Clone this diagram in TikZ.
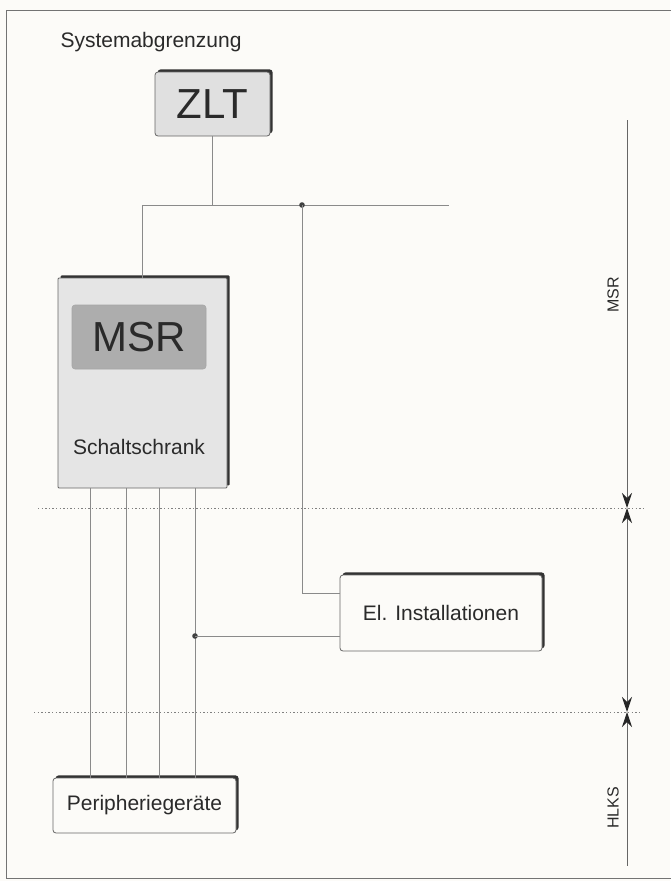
\documentclass[tikz,border=0pt]{standalone}
\usepackage{fontspec}
\setmainfont{Liberation Sans}
\usetikzlibrary{shadows,arrows.meta,calc}
\definecolor{paper}{HTML}{FCFBF8}
\definecolor{ink}{HTML}{2A2A2A}
\definecolor{wire}{HTML}{8A8A8A}
\begin{document}
\begin{tikzpicture}[x=1pt,y=-1pt,
  wireline/.style={draw=wire, line width=0.9pt},
  sbox/.style={draw=black!60, line width=0.8pt, rounded corners=3pt,
    drop shadow={shadow xshift=2.6pt, shadow yshift=2.6pt, fill=black!80, opacity=1},
    inner sep=0pt, anchor=center},
  txt/.style={font=\fontsize{21}{24}\selectfont, text=ink},
  big/.style={font=\fontsize{42}{46}\selectfont, text=ink},
  side/.style={font=\fontsize{16}{18}\selectfont, text=ink, rotate=90},
  dotline/.style={draw=black!50, line width=0.8pt, dash pattern=on 1.4pt off 2.2pt},
  axline/.style={draw=black!60, line width=0.9pt},
  tipend/.style={-{Stealth[length=15pt,width=10pt,inset=5pt,color=black!85]}},
  tipboth/.style={{Stealth[length=15pt,width=10pt,inset=5pt,color=black!85]}-{Stealth[length=15pt,width=10pt,inset=5pt,color=black!85]}},
  tipstart/.style={{Stealth[length=15pt,width=10pt,inset=5pt,color=black!85]}-}
]
\useasboundingbox (0,0) rectangle (670,881);
\fill[paper] (0,0) rectangle (670,881);
% frame
\draw[draw=black!55, line width=0.9pt] (672,10) -- (6,10) -- (6,878) -- (672,878);

% title
\node[txt, anchor=west] (title) at (57,42) {Systemabgrenzung};

% boxes
\node[sbox, fill=black!12, minimum width=115pt, minimum height=64pt, big] (zlt) at (212.5,104) {ZLT};
\node[sbox, fill=black!10, rounded corners=1pt, minimum width=169pt, minimum height=210pt] (schrank) at (142.5,383) {};
\node[draw=black!35, line width=0.6pt, fill=black!32, rounded corners=3pt, minimum width=134pt, minimum height=64pt, big] (msr) at (139,337) {MSR};
\node[txt] (schtxt) at (139,447) {Schaltschrank};
\node[sbox, fill=paper, minimum width=202pt, minimum height=76pt, txt] (el) at (441,613) {El. Installationen};
\node[sbox, fill=paper, minimum width=183pt, minimum height=55pt, txt] (peri) at (144.5,805.5) {Peripherieger\"ate};

% bus
\coordinate (busR) at (449,205);
\coordinate (ja) at (302,205);
\draw[wireline] (zlt.south) -- (zlt.south |- busR);
\draw[wireline] (schrank.north) |- (busR);
\fill[black!75] (ja) circle (2.8);
\draw[wireline] (ja) |- ([yshift=20pt]el.west);

% vertical wires
\coordinate (v1) at (90,0);
\coordinate (v2) at (126,0);
\coordinate (v3) at (159,0);
\coordinate (v4) at (195,0);
\foreach \v in {v1,v2,v3,v4}
  \draw[wireline] (schrank.south -| \v) -- (peri.north -| \v);
\coordinate (jb) at (195,636);
\fill[black!75] (jb) circle (2.8);
\draw[wireline] (jb) -- (jb -| el.west);

% boundaries
\draw[dotline] (38,508) -- (645,508);
\draw[dotline] (34,712) -- (641,712);

% axis
\coordinate (a0) at (627,120);
\coordinate (a1) at (627,508);
\coordinate (a2) at (627,712);
\coordinate (a3) at (627,866);
\draw[axline, tipend] (a0) -- (a1);
\draw[axline, tipboth] (a1) -- (a2);
\draw[axline, tipstart] (a2) -- (a3);
\node[side] (lmsr) at (613,295) {MSR};
\node[side] (lhlks) at (613,808) {HLKS};
\end{tikzpicture}
\end{document}
